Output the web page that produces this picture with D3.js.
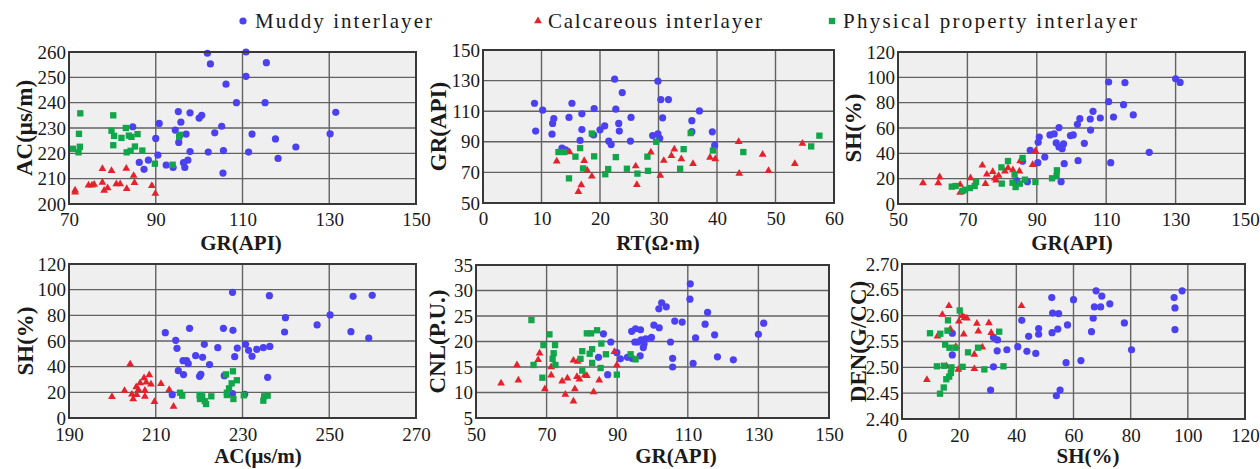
<!DOCTYPE html>
<html><head><meta charset="utf-8">
<script src="https://cdn.jsdelivr.net/npm/d3@7/dist/d3.min.js"></script>
<style>
html,body{margin:0;padding:0;background:#fff;}
svg{display:block;}
text{font-family:"Liberation Serif","Times New Roman",serif;}
</style></head>
<body>
<svg id="chart" width="1260" height="469"></svg>
<script>
// ---------- series labels ----------
const seriesNames = ["Muddy interlayer", "Calcareous interlayer", "Physical property interlayer"];

// ---------- axis titles ----------
const xTitles = ["GR(API)", "RT(Ω·m)", "GR(API)", "AC(μs/m)", "GR(API)", "SH(%)"];
const yTitles = ["AC(μs/m)", "GR(API)", "SH(%)", "SH(%)", "CNL(P.U.)", "DEN(G/CC)"];

// ---------- tick labels ----------
const p1XTicks = [70, 90, 110, 130, 150];
const p1YTicks = [200, 210, 220, 230, 240, 250, 260];
const p2XTicks = [0, 10, 20, 30, 40, 50, 60];
const p2YTicks = [50, 70, 90, 110, 130, 150];
const p3XTicks = [50, 70, 90, 110, 130, 150];
const p3YTicks = [0, 20, 40, 60, 80, 100, 120];
const p4XTicks = [190, 210, 230, 250, 270];
const p4YTicks = [0, 20, 40, 60, 80, 100, 120];
const p5XTicks = [50, 70, 90, 110, 130, 150];
const p5YTicks = [5, 10, 15, 20, 25, 30, 35];
const p6XTicks = [0, 20, 40, 60, 80, 100, 120];
const p6YTicks = [2.40, 2.45, 2.50, 2.55, 2.60, 2.65, 2.70];

// ---------- panel 1: GR vs AC ----------
const p1Muddy = [[101.9,259.5],[110.8,260],[102.6,255.3],[115.5,255.8],[106.2,247.3],[110.8,250.4],[108.6,240],[115.2,240],[131.5,236.2],[95.2,236.5],[97.9,236],[100,233.9],[100.6,235],[95.8,232.3],[90.8,231.8],[94.5,229.2],[84.7,230.5],[105.2,230.7],[103.6,228.1],[97,227.6],[112.2,227.6],[130.2,227.7],[117.6,225.7],[90,225.9],[95.3,224.3],[122.3,222.5],[97.9,220.7],[102.1,220.5],[105.6,221.1],[111.4,220.5],[90.5,219.3],[118.2,218],[88.3,217.3],[86.2,216.4],[97.4,217.3],[96.4,216.3],[92.4,215.4],[94,214.4],[96.7,214.4],[87.3,213.7],[105.5,212.2]];
const p1Calc = [[77.7,213.9],[79.8,213.1],[83.2,214],[84.9,211.2],[71.4,205.4],[71.4,204.6],[74.5,207.4],[75.3,207.4],[75.8,207.7],[77.7,208.5],[78.1,205.3],[78.9,206.3],[80.9,207.9],[81.8,207.9],[83.3,206],[85.1,208.4],[89.1,207.2],[89.9,204.1]];
const p1Phys = [[72.6,235.8],[80.2,235],[72.3,227.7],[79.8,228.9],[80.4,226.9],[83.1,230],[82.1,226.1],[83.8,227],[84.4,226.5],[85.8,227.6],[95.6,227.3],[95.4,226.5],[70.9,221.8],[72.5,222.6],[72.2,220.4],[80.2,223.2],[83.3,220.4],[84.2,221],[85.2,222.7],[86.9,221.1],[89.8,215.9],[93.9,215.5]];

// ---------- panel 2: RT vs GR ----------
const p2Muddy = [[8.8,115.2],[9.0,97],[10.2,110.7],[12.1,105.2],[11.9,102],[11.8,95],[15.2,115.2],[14.7,105.9],[16.9,108.3],[16.9,98],[16.6,90.9],[19,111.7],[18.9,94.5],[20,97.8],[20.8,100.4],[22.5,130.9],[23.8,122.2],[22.7,111.3],[23.2,102],[23.3,97],[21.5,90.4],[21.9,88.2],[25.3,105.9],[25.2,90.5],[29.9,129.6],[30.4,117.6],[31.7,117.6],[30.7,105.7],[29.0,94.1],[29.9,95.2],[30.2,92.3],[37,110.2],[35.7,103.8],[35.7,96.6],[39.2,96.5],[39.6,87.6],[13.5,85.9],[14.1,84.8]];
const p2Calc = [[12.6,77.3],[14.8,83.3],[17.3,77.6],[17.8,71.4],[18.6,67.4],[16.8,61.8],[16.3,57.4],[26.1,74.1],[26.3,62],[28.7,83.2],[30.3,68],[30.9,77.7],[32.2,80.9],[32.7,85.2],[33.9,78.7],[35.9,75.7],[38.8,79.8],[39.7,78.7],[43.7,90],[43.8,69.3],[47.8,81.7],[48.8,71.1],[53.3,75.7],[54.6,88.9]];
const p2Phys = [[18.6,95.4],[35.5,95.7],[57.5,94],[29.6,90],[16.6,85.9],[34.3,85.2],[12.9,83.3],[13.9,83.3],[56.1,87],[39.3,84.3],[44.5,83.3],[15.8,80.3],[19,80.5],[22.7,80],[28.1,80.3],[14.7,66.1],[17.1,72.6],[21.4,72.2],[20.9,68.8],[24.6,72.4],[26.4,69.2],[28.2,71],[33.7,72.4]];

// ---------- panel 3: GR vs SH ----------
const p3Muddy = [[130,98.9],[131.3,96],[110.7,96.3],[115.4,95.8],[110.7,80.8],[115,78.4],[106.2,73.2],[117.8,70.3],[112.1,68.7],[108.3,67.9],[102.4,67.4],[105.4,67.1],[101.7,62.9],[105.5,58.4],[96.4,60.3],[90.7,52.9],[93.8,54.5],[95,55.3],[99.7,54],[100.5,54.5],[90.4,48.7],[95.6,48.2],[97.7,47.4],[103.7,47.9],[96.4,45],[97.3,43.7],[88.1,42.4],[122.4,40.8],[92.3,37.1],[101.9,34.2],[85.9,33.7],[90.3,32.6],[97.9,31.8],[111.3,32.6],[97,17.6],[87.3,17.6],[84.2,18.5]];
const p3Calc = [[57.2,16.6],[62,21.3],[61.6,16.6],[67.9,15.3],[67.9,9],[70.9,20.5],[74.3,30.5],[75.6,23.4],[75.2,16],[77.3,25.5],[77.9,20.3],[78.3,18.7],[79,22.4],[80.8,25.8],[81.7,28.4],[83.1,26.8],[85.2,33.9],[85,25.8],[88.8,31],[89.6,41.8]];
const p3Phys = [[85.9,36.3],[81.7,33.9],[79.8,28.9],[83.6,23.2],[86.6,19.2],[89.6,17.4],[79.9,16.1],[83,16.8],[83.9,13.4],[85.1,16.1],[95.8,26.6],[95.7,22.1],[94.4,20.3],[65.5,13.7],[66.6,14.2],[68.6,10.3],[69.3,11.3],[70.7,12.6],[72.1,14.2],[72.5,17.4]];

// ---------- panel 4: AC vs SH ----------
const p4Muddy = [[227.7,97.9],[236.2,95.3],[255.5,94.8],[259.9,95.6],[239.9,78.2],[250.2,80.3],[247.2,72.5],[239.7,67],[255,67.3],[259.1,62.3],[212.2,66.5],[217.8,69.9],[225.6,69.9],[227.8,68.3],[214.6,60.5],[221.2,57.4],[230.7,57.4],[214.9,54.3],[224.3,54.8],[228.8,54.5],[231.4,52.7],[233.3,53.5],[234.8,54.8],[236.3,55.8],[219.2,48.6],[220.8,47.3],[228.2,47.8],[232.2,48.1],[216.3,44.7],[217.1,44.7],[217.5,42.3],[222.4,41.6],[215.2,36.9],[216.4,33.8],[220.1,32.5],[220.4,34],[225.8,33],[235.8,31.7],[213.8,18.2],[227.7,19],[230.5,18.5]];
const p4Calc = [[204.1,42],[199.9,16.6],[202.8,21.2],[204.5,18.4],[204.8,14.8],[205.6,18.2],[206,22.1],[205.5,24.2],[206.4,27.3],[207.3,31.2],[207.8,27.8],[208.5,33.5],[208.9,26.3],[207.5,21.5],[207.5,16.8],[209.7,12.7],[211.2,26.7],[213.1,22.1],[214.1,9]];
const p4Phys = [[227.8,36.4],[226.2,34],[228.7,29.4],[227.5,27],[226.9,23.1],[226.4,19.7],[226.4,17.9],[227.9,14.8],[215.6,19.7],[216.1,17.4],[220.1,17.9],[220.7,16.9],[222.8,16.9],[220.2,14.8],[221.6,10.9],[221.3,13.2],[230.3,17.7],[235,16.9],[235.8,17.4],[234.8,13.5]];

// ---------- panel 5: GR vs CNL ----------
const p5Muddy = [[110.7,31.3],[110.6,28.3],[102.6,27.6],[101.8,26.4],[103.9,26.8],[115.6,25.7],[131.5,23.6],[106.3,24],[108.4,23.8],[114.9,23.4],[100.4,23.2],[101.9,22.7],[99.7,20.8],[130,21.4],[117.6,21.3],[112.2,20.7],[86.1,21.5],[94.1,22],[95.2,22.5],[96.6,22.3],[96.8,20.3],[98.1,20.5],[95,19.9],[95.8,19.9],[97.6,19.5],[88.2,19.9],[105.1,19.9],[97.4,18.8],[89.9,17.8],[84.7,16.9],[90.9,16.6],[92.9,16.9],[94.2,16.7],[96.5,17.2],[105.7,16.7],[118.4,17],[122.9,16.4],[111.5,15.7],[105.7,15],[87.3,13.5]];
const p5Calc = [[89.2,18],[68,17.7],[67.6,16.4],[61.6,15.4],[71.3,15],[77.6,16.3],[78.8,16.1],[89.9,15.4],[57.1,11.8],[62,12.4],[71.3,13.4],[74.4,12.2],[75.9,12.8],[78.6,13.1],[79.3,12.6],[80.8,13.4],[81.4,13.3],[84.9,12.4],[69.5,10.7],[78,10.7],[83.3,10.1],[75.3,9.6],[77.6,8.3]];
const p5Phys = [[65.7,24.2],[70.8,21.4],[81.4,21.6],[82.6,21.6],[84.3,22.2],[85.5,19.6],[69.1,19.3],[72.4,19.3],[80.1,18.1],[72,17.7],[82.2,17.6],[82.9,18.5],[86.8,17.5],[93.8,17.5],[71.7,16.6],[79.6,16.6],[66.3,15.4],[72.5,15.4],[82.9,15.8],[85.3,14.8],[95.2,16.5],[80.1,14.3],[68.8,12.9],[89.9,13.5]];

// ---------- panel 6: SH vs DEN ----------
const p6Muddy = [[98,2.648],[95.2,2.635],[95.5,2.615],[95.5,2.573],[67.9,2.648],[69.9,2.638],[72.7,2.623],[67.3,2.617],[69.5,2.617],[66.9,2.595],[77.8,2.586],[66.3,2.569],[80.3,2.534],[52.4,2.635],[60,2.631],[52.7,2.605],[54.8,2.604],[41.9,2.591],[57.9,2.582],[47.8,2.575],[47.8,2.564],[54.5,2.574],[52.5,2.567],[44.3,2.560],[32,2.558],[33.4,2.553],[33.3,2.532],[36.7,2.534],[40.5,2.540],[43.7,2.531],[46.8,2.527],[57.4,2.509],[62.6,2.513],[32,2.501],[31,2.456],[54,2.445],[55.3,2.456],[17.6,2.566],[17.6,2.524]];
const p6Calc = [[8.7,2.476],[16.4,2.619],[14.1,2.602],[41.8,2.619],[21.1,2.600],[21.9,2.596],[22.7,2.595],[19.9,2.589],[26.2,2.585],[30.4,2.586],[26.7,2.570],[31.2,2.567],[21.6,2.564],[12.4,2.560],[16.9,2.574],[18.8,2.540],[28.1,2.539],[25.3,2.525],[25.3,2.497],[19.7,2.496],[15.6,2.502]];
const p6Phys = [[20.2,2.610],[16.1,2.591],[9.8,2.566],[13.4,2.565],[15.9,2.571],[34,2.569],[15.1,2.544],[16.6,2.538],[18.7,2.538],[26.6,2.538],[23.1,2.529],[12.2,2.502],[14.6,2.503],[17.3,2.500],[21.2,2.501],[28.8,2.496],[35.5,2.502],[17.1,2.489],[16.5,2.482],[15.5,2.477],[14.6,2.461],[13.3,2.449]];

// ---------- build ----------
const colors = {muddy:"#4b40f2", calc:"#e6212b", phys:"#12a64a"};
const svg = d3.select("#chart");

const panels = [
  {box:[69,416,52,204], xd:[70,150], yd:[200,260], xt:p1XTicks, yt:p1YTicks, fmt:d3.format("d"), d:[p1Muddy,p1Calc,p1Phys], xtx:241, xty:250, ytx:24},
  {box:[483,834,50,203], xd:[0,60], yd:[50,150], xt:p2XTicks, yt:p2YTicks, fmt:d3.format("d"), d:[p2Muddy,p2Calc,p2Phys], xtx:658, xty:250, ytx:438},
  {box:[898,1245,52,204], xd:[50,150], yd:[0,120], xt:p3XTicks, yt:p3YTicks, fmt:d3.format("d"), d:[p3Muddy,p3Calc,p3Phys], xtx:1072, xty:250, ytx:853},
  {box:[69,416,264,418], xd:[190,270], yd:[0,120], xt:p4XTicks, yt:p4YTicks, fmt:d3.format("d"), d:[p4Muddy,p4Calc,p4Phys], xtx:258, xty:463, ytx:25},
  {box:[476,829,265,418], xd:[50,150], yd:[5,35], xt:p5XTicks, yt:p5YTicks, fmt:d3.format("d"), d:[p5Muddy,p5Calc,p5Phys], xtx:676, xty:463, ytx:437},
  {box:[902,1245,264,419], xd:[0,120], yd:[2.40,2.70], xt:p6XTicks, yt:p6YTicks, fmt:d3.format(".2f"), d:[p6Muddy,p6Calc,p6Phys], xtx:1088, xty:463, ytx:858}
];

const tri = d3.symbol().type(d3.symbolTriangle).size(26);
const sq = d3.symbol().type(d3.symbolSquare).size(40);

panels.forEach((p, i) => {
  const [l, r, t, b] = p.box;
  const x = d3.scaleLinear().domain(p.xd).range([l, r]);
  const y = d3.scaleLinear().domain(p.yd).range([b, t]);
  const g = svg.append("g");
  g.append("rect").attr("x", l).attr("y", t).attr("width", r - l).attr("height", b - t).attr("fill", "#efefef");
  // grid
  g.append("g").selectAll("line").data(p.xt).join("line")
    .attr("x1", d => x(d)).attr("x2", d => x(d)).attr("y1", t).attr("y2", b)
    .attr("stroke", "#626262").attr("stroke-width", 1.4);
  g.append("g").selectAll("line").data(p.yt).join("line")
    .attr("y1", d => y(d)).attr("y2", d => y(d)).attr("x1", l).attr("x2", r)
    .attr("stroke", "#626262").attr("stroke-width", 1.4);
  // axes (labels only)
  const xa = g.append("g").attr("transform", `translate(0,${b})`)
    .call(d3.axisBottom(x).tickValues(p.xt).tickSize(0).tickPadding(i < 3 ? 9 : 10).tickFormat(d3.format("d")));
  const ya = g.append("g").attr("transform", `translate(${l},0)`)
    .call(d3.axisLeft(y).tickValues(p.yt).tickSize(0).tickPadding(3).tickFormat(p.fmt));
  [xa, ya].forEach(a => {
    a.select(".domain").remove();
    a.selectAll("text").attr("font-family", "Liberation Serif, serif").attr("font-size", 19).attr("fill", "#1a1a1a");
  });
  // points
  const [mud, calc, phys] = p.d;
  g.append("g").selectAll("circle").data(mud).join("circle")
    .attr("cx", d => x(d[0])).attr("cy", d => y(d[1])).attr("r", 3.6).attr("fill", colors.muddy);
  g.append("g").selectAll("path").data(calc).join("path")
    .attr("d", tri).attr("transform", d => `translate(${x(d[0])},${y(d[1])})`).attr("fill", colors.calc);
  g.append("g").selectAll("path").data(phys).join("path")
    .attr("d", sq).attr("transform", d => `translate(${x(d[0])},${y(d[1])})`).attr("fill", colors.phys);
  // border
  g.append("rect").attr("x", l).attr("y", t).attr("width", r - l).attr("height", b - t)
    .attr("fill", "none").attr("stroke", "#383838").attr("stroke-width", 2);
  // titles
  g.append("text").attr("x", p.xtx).attr("y", p.xty).attr("text-anchor", "middle")
    .attr("font-size", 21).attr("font-weight", "bold").attr("fill", "#1a1a1a").text(xTitles[i]);
  g.append("text").attr("transform", `translate(${p.ytx},${(t + b) / 2}) rotate(-90)`)
    .attr("text-anchor", "middle").attr("dominant-baseline", "central")
    .attr("font-size", 23).attr("font-weight", "bold").attr("fill", "#1a1a1a").text(yTitles[i]);
});

// legend
const leg = [
  {mx:243, tx:255, w:177, type:"c", c:colors.muddy},
  {mx:538, tx:548, w:214, type:"t", c:colors.calc},
  {mx:832, tx:843, w:294, type:"s", c:colors.phys}
];
leg.forEach((e, i) => {
  if (e.type === "c") svg.append("circle").attr("cx", e.mx).attr("cy", 21).attr("r", 3.6).attr("fill", e.c);
  else svg.append("path").attr("d", e.type === "t" ? tri : sq).attr("transform", `translate(${e.mx},21)`).attr("fill", e.c);
  svg.append("text").attr("x", e.tx).attr("y", 28).attr("font-size", 21).attr("fill", "#1a1a1a")
    .attr("textLength", e.w).attr("lengthAdjust", "spacing").text(seriesNames[i]);
});
</script>
</body></html>
